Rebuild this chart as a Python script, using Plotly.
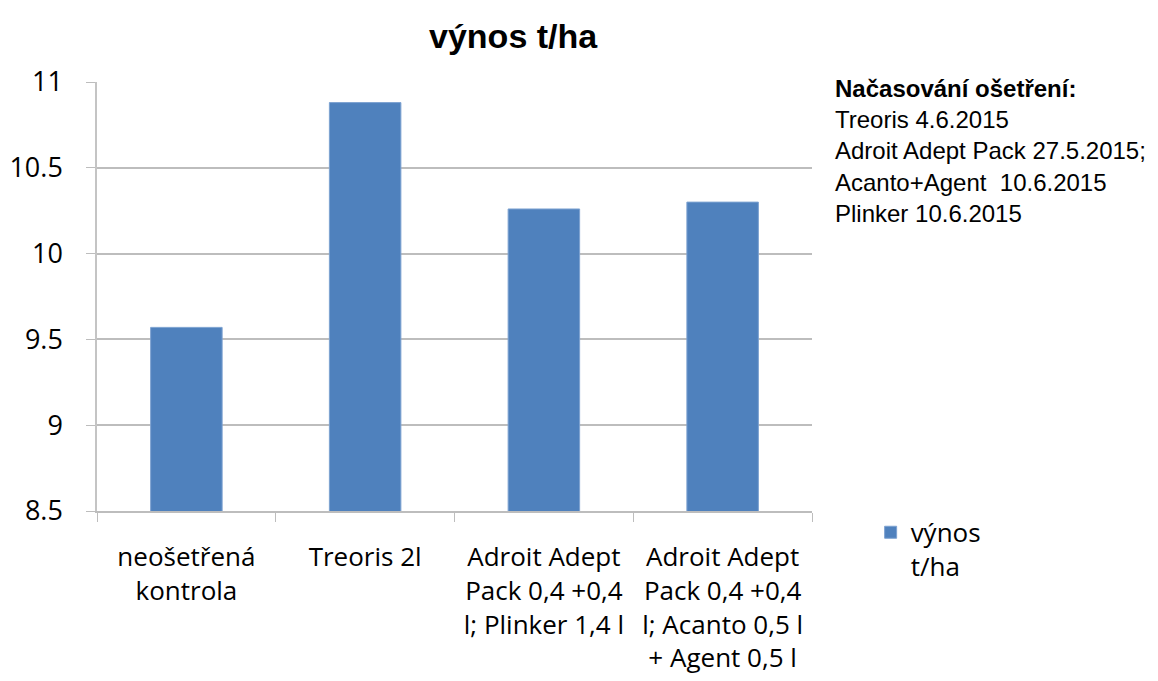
import plotly.graph_objects as go

categories = [
    "neošetřená<br>kontrola",
    "Treoris 2l",
    "Adroit Adept<br>Pack 0,4 +0,4<br>l; Plinker 1,4 l",
    "Adroit Adept<br>Pack 0,4 +0,4<br>l; Acanto 0,5 l<br>+ Agent 0,5 l",
]
values = [9.57, 10.88, 10.26, 10.30]
series_name = "výnos<br>t/ha"
title_text = "výnos t/ha"
note_lines = [
    "<b>Načasování ošetření:</b>",
    "Treoris 4.6.2015",
    "Adroit Adept Pack 27.5.2015;",
    "Acanto+Agent  10.6.2015",
    "Plinker 10.6.2015",
]

W, H = 1150, 673

fig = go.Figure()
fig.add_trace(go.Bar(
    x=categories, y=values, name=series_name,
    marker=dict(color="#4F81BD", line=dict(color="#7da2d1", width=1)),
    showlegend=True,
))

fig.update_layout(
    width=W, height=H,
    margin=dict(l=89, r=346, t=74, b=170, autoexpand=False),
    paper_bgcolor="white", plot_bgcolor="white",
    bargap=0.6,
    font=dict(family="Open Sans", color="black"),
    title=dict(text="<b>" + title_text + "</b>", x=0.582, xref="paper", xanchor="center",
               y=1 - 28 / H, yref="container", yanchor="middle",
               font=dict(family="Liberation Sans", size=34, color="black")),
    showlegend=True,
    legend=dict(x=1.082, xanchor="left", y=0.005, yanchor="top", valign="top",
                font=dict(family="Open Sans", size=26, color="black"),
                bgcolor="rgba(0,0,0,0)"),
    annotations=[dict(
        text="<br>".join(note_lines), xref="paper", yref="paper",
        x=1.029, xanchor="left", y=1.02, yanchor="top", align="left", showarrow=False,
        font=dict(family="Liberation Sans", size=24, color="black"),
    )],
)

fig.update_yaxes(
    range=[8.5, 11], dtick=0.5, tick0=8.5, automargin=False,
    showgrid=True, gridcolor="#bdbdbd", gridwidth=1.5,
    showline=True, linecolor="#c4c4c4", linewidth=1.5,
    ticks="outside", ticklen=9, tickcolor="#bdbdbd",
    tickfont=dict(family="Open Sans", size=27, color="black"),
    ticklabelstandoff=18, zeroline=False,
)
fig.update_xaxes(
    showgrid=False, showline=True, linecolor="#bdbdbd", linewidth=1.5, automargin=False,
    ticks="outside", ticklen=9, tickcolor="#bdbdbd", tickson="boundaries",
    tickfont=dict(family="Open Sans", size=26, color="black"),
    ticklabelstandoff=22, tickangle=0,
)

fig.write_html("out.html")
